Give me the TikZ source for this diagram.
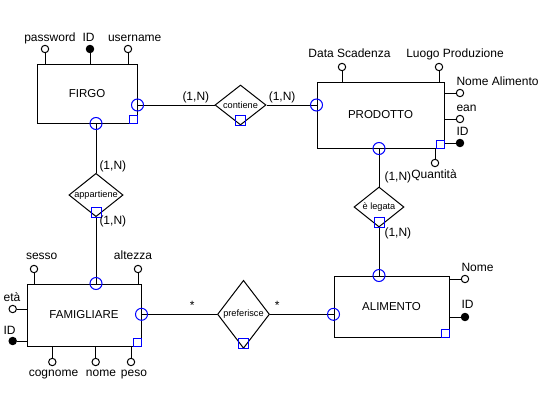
\documentclass[tikz,border=0pt]{standalone}
\usepackage{fontspec}
\setmainfont{Liberation Sans}
\usepackage{tikz}
\usetikzlibrary{shapes.geometric,calc}

\begin{document}
\begin{tikzpicture}[x=1pt, y=-1pt, line width=1pt,
    entity/.style={draw, rectangle, inner sep=0pt, font=\fontsize{11.5}{13}\selectfont},
    relation/.style={draw, diamond, inner sep=0pt, aspect=1.25, font=\fontsize{9.2}{11}\selectfont},
    attr/.style={draw, circle, fill=white, inner sep=0pt, minimum size=7.4pt},
    keyattr/.style={attr, fill=black},
    attrname/.style={anchor=base, inner sep=0pt, font=\fontsize{12}{14}\selectfont},
    card/.style={anchor=base west, inner sep=0pt, font=\fontsize{12}{14}\selectfont},
    link/.style={blue}]
    \useasboundingbox[fill=white] (0,0) rectangle (556,402);

    % Entities
    \node[entity, minimum width=100, minimum height=59] (firgo) at (87,93.5) {FIRGO};
    \node[entity, minimum width=127, minimum height=66] (prodotto) at (380.5,115) {PRODOTTO};
    \node[entity, minimum width=114, minimum height=62] (famigliare) at (84,315) {FAMIGLIARE};
    \node[entity, minimum width=115, minimum height=61] (alimento) at (391.5,306.5) {ALIMENTO};

    % Relationships
    \node[relation, minimum width=51, minimum height=40] (contiene) at (240.5,105) {contiene};
    \node[relation, minimum width=50, minimum height=40] (appartiene) at (96,195) {appartiene};
    \node[relation, minimum width=50, minimum height=40] (elegata) at (379,207) {è legata};
    \node[relation, aspect=0.75, minimum width=52, minimum height=68] (preferisce) at (243.5,314.3) {preferisce};

    % Connectors
    \draw (contiene.west) -- (contiene.west -| firgo.east);
    \draw (contiene.east) -- (contiene.east -| prodotto.west);
    \draw (appartiene.north) -- (appartiene.north |- firgo.south);
    \draw (appartiene.south) -- (appartiene.south |- famigliare.north);
    \draw (elegata.north) -- (elegata.north |- prodotto.south);
    \draw (elegata.south) -- (elegata.south |- alimento.north);
    \draw (preferisce.west) -- (preferisce.west -| famigliare.east);
    \draw (preferisce.east) -- (preferisce.east -| alimento.west);

    % Participation circles
    \foreach \p in {contiene.west -| firgo.east, appartiene.north |- firgo.south,
                    contiene.east -| prodotto.west, elegata.north |- prodotto.south,
                    appartiene.south |- famigliare.north, preferisce.west -| famigliare.east,
                    elegata.south |- alimento.north, preferisce.east -| alimento.west} {
        \draw[link] (\p) circle (6);
    }

    % Identifier squares
    \foreach \e in {firgo, prodotto, famigliare, alimento} {
        \draw[link] (\e.south east) rectangle ++(-8,-8);
    }
    \foreach \r in {contiene, appartiene, elegata, preferisce} {
        \draw[link] (\r.south) ++(-5,0) rectangle ++(10,-10);
    }

    % Attributes above
    \foreach \nm/\st/\x/\y/\lx/\ly/\txt/\e in {pwd/attr/45/49/50/41/password/firgo,
            firgoid/keyattr/90/49/88.5/41/ID/firgo,
            usr/attr/128/49/134.7/41/username/firgo,
            scad/attr/342/67/349.5/57/Data Scadenza/prodotto,
            luogo/attr/439/67/455/57/Luogo Produzione/prodotto,
            sesso/attr/34/269/41.7/259/sesso/famigliare,
            altezza/attr/138/269/133/259/altezza/famigliare} {
        \node[\st] (\nm) at (\x,\y) {};
        \draw (\nm.south) -- (\nm.south |- \e.north);
        \node[attrname] (\nm name) at (\lx,\ly) {\txt};
    }

    % Attributes below
    \foreach \nm/\st/\x/\y/\lx/\ly/\txt/\e in {qta/attr/435/163/434/178/Quantità/prodotto,
            cognome/attr/52.3/362/53.5/376/cognome/famigliare,
            nome/attr/95.7/362/101/376/nome/famigliare,
            peso/attr/131/362/134/376/peso/famigliare} {
        \node[\st] (\nm) at (\x,\y) {};
        \draw (\nm.north) -- (\nm.north |- \e.south);
        \node[attrname] (\nm name) at (\lx,\ly) {\txt};
    }

    % Attributes on the right
    \foreach \nm/\st/\x/\y/\lx/\ly/\txt/\e in {nomeal/attr/460/93/456/85.7/Nome Alimento/prodotto,
            ean/attr/460/119/456/111/ean/prodotto,
            prodid/keyattr/460/143/456/135/ID/prodotto,
            nomeali/attr/465/279/461/271.7/Nome/alimento,
            alimid/keyattr/465/317/461/308.7/ID/alimento} {
        \node[\st] (\nm) at (\x,\y) {};
        \draw (\nm.west) -- (\nm.west -| \e.east);
        \node[attrname, anchor=base west] (\nm name) at (\lx,\ly) {\txt};
    }

    % Attributes on the left
    \foreach \nm/\st/\x/\y/\lx/\ly/\txt/\e in {eta/attr/12.7/309/12/301.7/età/famigliare,
            famid/keyattr/12.7/341/9.5/334/ID/famigliare} {
        \node[\st] (\nm) at (\x,\y) {};
        \draw (\nm.east) -- (\nm.east -| \e.west);
        \node[attrname] (\nm name) at (\lx,\ly) {\txt};
    }

    % Cardinalities
    \node[card] (cardfc) at (182,100) {(1,N)};
    \node[card] (cardpc) at (268.3,100) {(1,N)};
    \node[card] (cardfa) at (99,169.3) {(1,N)};
    \node[card] (cardma) at (99,224.3) {(1,N)};
    \node[card] (cardpe) at (384,180.7) {(1,N)};
    \node[card] (cardae) at (384,236) {(1,N)};
    \node[attrname] (cardmp) at (192.3,309.5) {*};
    \node[attrname] (cardap) at (277.3,309.5) {*};
\end{tikzpicture}
\end{document}
